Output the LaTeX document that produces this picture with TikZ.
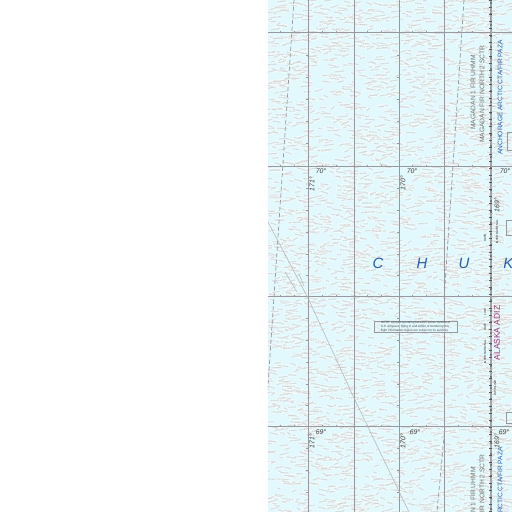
\documentclass[tikz,border=0pt]{standalone}
\usepackage{fontspec}
\setmainfont{Liberation Sans}
\usetikzlibrary{positioning}
\definecolor{seaC}{HTML}{E1F8FC}
\definecolor{gridC}{HTML}{98989E}
\definecolor{blueC}{HTML}{2A5CA8}
\definecolor{adizC}{HTML}{A03A78}
\tikzset{
  gridline/.style={draw=gridC, line width=0.42pt},
  hairline/.style={draw=gridC!70, line width=0.32pt},
  airway/.style={draw=gridC, line width=0.4pt, dash pattern=on 2.4pt off 1.4pt},
  boundary/.style={draw=gridC!90, line width=1.7pt},
  coordlabel/.style={font=\fontsize{3.9}{4}\selectfont\itshape, text=black!75, inner sep=0pt},
  firlabel/.style={font=\fontsize{3.8}{5}\selectfont, text=black!55, inner sep=0pt, rotate=90},
  ctalabel/.style={font=\fontsize{3.75}{5}\selectfont, text=blueC, inner sep=0pt, rotate=90},
  sealabel/.style={font=\fontsize{8.5}{9}\selectfont\itshape, text=blueC, inner sep=0pt},
  tinylabel/.style={font=\fontsize{1.7}{2}\selectfont, text=black!80, inner sep=0pt, rotate=90},
  chartbox/.style={draw=gridC, line width=0.25pt, inner sep=0pt},
}
\begin{document}
\begin{tikzpicture}[x=0.02cm,y=-0.02cm]
    \useasboundingbox (0,0) rectangle (512,512);
    \begin{scope}
        \clip (268,0) rectangle (512,512);
        \fill[seaC] (268,0) rectangle (512,512);
        \pgfmathsetseed{4711}
        \foreach \i in {1,...,3600} {
            \pgfmathsetmacro{\px}{268+244*rnd}
            \pgfmathsetmacro{\py}{512*rnd}
            \pgfmathsetmacro{\pl}{1.5+4*rnd}
            \pgfmathsetmacro{\pw}{2.4*rnd-1.2}
            \fill[white, opacity=0.35] (\px,\py) ellipse ({\pl+2} and 2);
            \draw[gray!60, line width=0.65pt, opacity=0.42, dash pattern=on 1pt off 0.25pt]
                (\px-\pl,\py+\pw) .. controls (\px-\pl/3,\py-\pw) and (\px+\pl/3,\py+1.4*\pw) .. (\px+\pl,\py-\pw);
        }
        \draw[gridline] (268,32) -- (512,32) (268,166) -- (512,166) (268,296) -- (512,296) (268,426) -- (512,426);
        \foreach \x in {308,354,399,444} {
            \draw[gridline] (\x,0) -- (\x,512);
        }
        \foreach \y in {32,166,296,426} {
            \foreach \x in {280,294,322,336,367,381,412,426,458,472} {
                \draw[gridline, line width=0.3pt] (\x,\y-1.5) -- (\x,\y+0.5);
            }
        }
        \foreach \y in {55,77,99,121,143,188,210,232,254,275,318,340,362,384,405,448,470,492} {
            \draw[gridline, line width=0.35pt] (306.5,\y) -- (309.5,\y) (397.5,\y) -- (400.5,\y);
        }
        \draw[airway] (294,0) -- (267,400);
        \draw[airway] (464,0) -- (444,300);
        \draw[airway] (445,426) -- (437,512);
        \draw[hairline] (268,222) -- (308,298) -- (354,398) -- (409,512);
        \draw[hairline] (285,272) -- (297,292) (299,274) -- (304,286);
        \draw[boundary] (491,0) -- (491,512);
        \foreach \y in {0,7,...,512} {
            \draw[black!65, line width=0.3pt] (489.5,\y) -- (492.5,\y);
        }
        \foreach \y in {3,14,...,512} {
            \fill[black!70] (491,\y) circle (0.8);
        }
        \node[firlabel, anchor=east] (magA) at (473,55) {MAGADAN 1 FIR UHMM};
        \node[firlabel, anchor=east] (magB) at (482,45) {MAGADAN FIR NORTH 2 SCTR};
        \node[ctalabel, anchor=east] (ancA) at (500,40) {ANCHORAGE ARCTIC CTA/FIR PAZA};
        \node[firlabel, anchor=east] (magC) at (473,467) {N 1 FIR UHMM};
        \node[firlabel, anchor=east] (magD) at (482,454) {FIR NORTH 2 SCTR};
        \node[ctalabel, anchor=east] (ancB) at (500,447) {RCTIC CTA/FIR PAZA};
        \node[font=\fontsize{4.8}{5}\selectfont, text=adizC, inner sep=0pt, rotate=90] (adiz) at (497,333) {ALASKA ADIZ};
        \node[sealabel] (letC) at (378,263) {C};
        \node[sealabel] (letH) at (422,263) {H};
        \node[sealabel] (letU) at (464,263) {U};
        \node[sealabel, anchor=west] (letK) at (503,263) {K};
        \node[coordlabel] (latA) at (321,171) {70°};
        \node[coordlabel] (latB) at (412,171) {70°};
        \node[coordlabel] (latC) at (505,171) {70°};
        \node[coordlabel] (latD) at (321,432) {69°};
        \node[coordlabel] (latE) at (415,432) {69°};
        \node[coordlabel] (latF) at (504,432) {69°};
        \node[coordlabel, rotate=90] (lonA) at (312,184) {171°};
        \node[coordlabel, rotate=90] (lonB) at (403,183) {170°};
        \node[coordlabel, rotate=90] (lonC) at (497,205) {169°};
        \node[coordlabel, rotate=90] (lonD) at (312,441) {171°};
        \node[coordlabel, rotate=90] (lonE) at (403,441) {170°};
        \node[coordlabel, rotate=90] (lonF) at (497,441) {169°};
        \node[tinylabel] (intl) at (485,352) {INTERNATIONAL};
        \node[tinylabel] (dateA) at (485,327) {DATE};
        \node[tinylabel] (lineA) at (485,312) {LINE};
        \node[tinylabel] (dateB) at (485,238) {DATE};
        \node[tinylabel] (lineB) at (497,232) {INTERNATIONAL};
        \node[tinylabel] (lineC) at (495,388) {DATE LINE};
        \node[chartbox, minimum width=0.1cm, minimum height=0.36cm] (boxA) at (510,141) {};
        \node[chartbox, minimum width=0.16cm, minimum height=0.3cm] (boxB) at (510,228) {};
        \node[chartbox, minimum width=0.16cm, minimum height=0.22cm] (boxC) at (510,418) {};
    \end{scope}
    \node[chartbox, line width=0.3pt, fill=seaC, fill opacity=0.6, text opacity=1, text=black!70, minimum width=1.66cm, minimum height=0.22cm, align=left, font=\fontsize{1.75}{2.2}\selectfont] (note) at (415.5,326.5) {NOTE: Aircraft operating between points outside of\\ U.S. airspace, flying in and within or bordering this\\ flight information region are subject to its services};
\end{tikzpicture}
\end{document}
